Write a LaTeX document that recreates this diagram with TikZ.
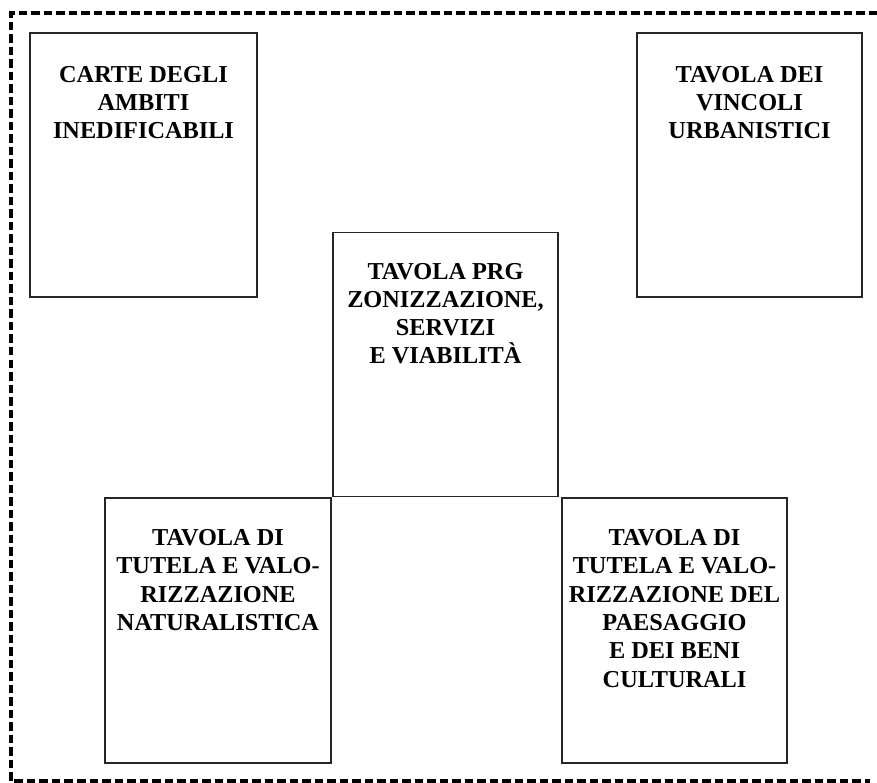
\documentclass[tikz,border=0pt]{standalone}
\usepackage{fontspec}
\setmainfont{Liberation Serif}
\begin{document}
\begin{tikzpicture}[x=1pt,y=-1pt,
  box/.style={draw=black!85, line width=1.4pt, minimum width=#1, minimum height=264pt, inner sep=0pt},
  box/.default=225pt,
  lbl/.style={anchor=north, inner sep=0pt, align=center, font=\fontsize{24.3}{28.3}\selectfont\bfseries},
  frame/.style={line width=3.2pt, dash pattern=on 8.5pt off 4pt}]
\useasboundingbox (0,0) rectangle (877,783);
\draw[frame] (877,13) -- (11,13) -- (11,781) -- (870,781);
\node[box=227pt] (b1) at (143.5,165) {};
\node[box] (b2) at (749.5,165) {};
\node[box] (bc) at (445.5,364.5) {};
\node[box=226pt, minimum height=265pt] (bl) at (218,630.5) {};
\node[box, minimum height=265pt] (br) at (674.5,630.5) {};
\node[lbl] (t1) at ([yshift=-33.5pt]b1.north) {CARTE DEGLI\\AMBITI\\INEDIFICABILI};
\node[lbl] (t2) at ([yshift=-33.5pt]b2.north) {TAVOLA DEI\\VINCOLI\\URBANISTICI};
\node[lbl] (tc) at ([yshift=-31pt]bc.north) {TAVOLA PRG\\ZONIZZAZIONE,\\SERVIZI\\E VIABILITÀ};
\node[lbl] (tl) at ([yshift=-32pt]bl.north) {TAVOLA DI\\TUTELA E VALO-\\RIZZAZIONE\\NATURALISTICA};
\node[lbl] (tr) at ([yshift=-32pt]br.north) {TAVOLA DI\\TUTELA E VALO-\\RIZZAZIONE DEL\\PAESAGGIO\\E DEI BENI\\CULTURALI};
\end{tikzpicture}
\end{document}
